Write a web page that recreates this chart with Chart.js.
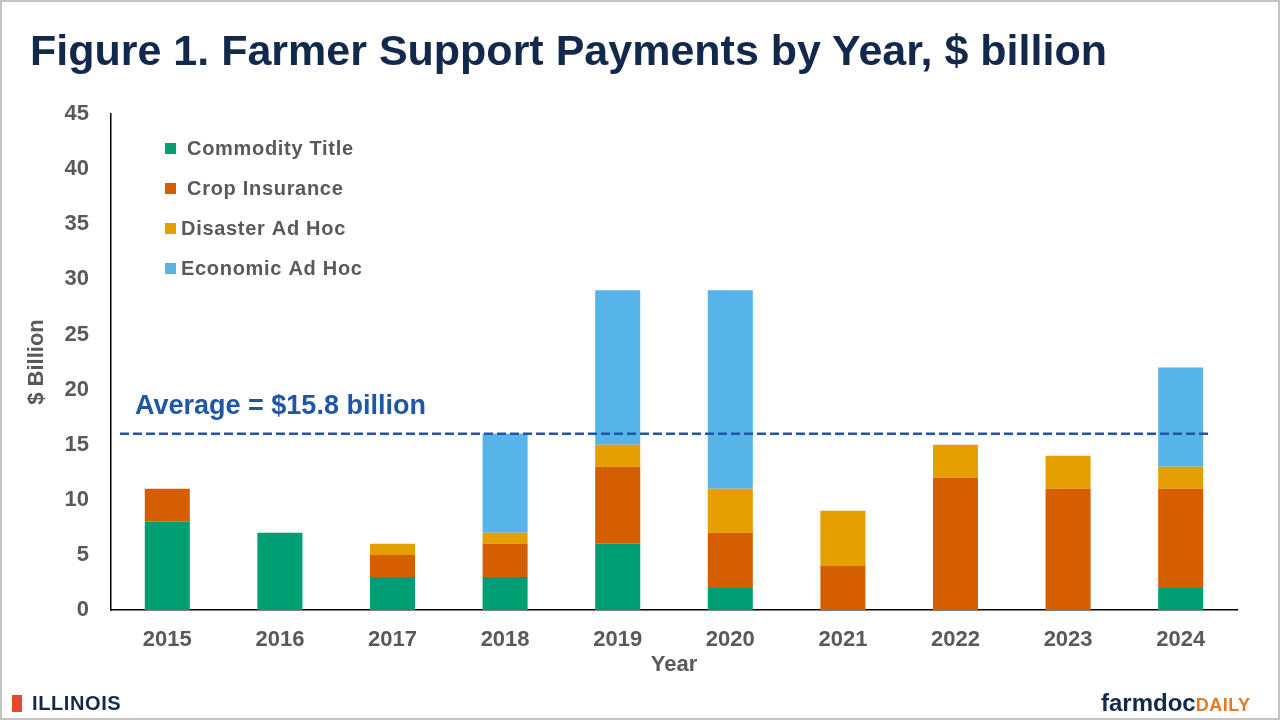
<!DOCTYPE html>
<html>
<head>
<meta charset="utf-8">
<script src="https://cdn.jsdelivr.net/npm/chart.js"></script>
<style>
  html, body { margin: 0; padding: 0; background: #fff; }
  body { width: 1280px; height: 720px; position: relative; overflow: hidden; font-family: "Liberation Sans", Arial, sans-serif; }
  #frame { position: absolute; left: 0; top: 0; border: 2px solid #c4c4c4; box-sizing: border-box; width: 1280px; height: 720px; pointer-events: none; }
  #title { position: absolute; left: 30px; top: 26px; font-size: 43px; font-weight: bold; color: #13294b; white-space: nowrap; }
  #chartBox { position: absolute; left: 0; top: 0; width: 1280px; height: 720px; }
  #illinois { position: absolute; left: 12px; top: 692px; font-size: 20px; font-weight: 900; color: #13294b; letter-spacing: 0.6px; }
  #illinois .i { display: inline-block; width: 10px; height: 17px; background: #e84a27; margin-right: 10px; vertical-align: -2px; }
  #farmdoc { position: absolute; left: 1101px; top: 689px; font-size: 24px; font-weight: bold; color: #13294b; }
  #farmdoc span { color: #e87722; font-size: 18px; letter-spacing: 0.5px; }
</style>
</head>
<body>
<div id="chartBox"><canvas id="chart" width="1280" height="720"></canvas></div>
<div id="title">Figure 1. Farmer Support Payments by Year, $ billion</div>
<div id="illinois"><span class="i"></span>ILLINOIS</div>
<div id="farmdoc">farmdoc<span>DAILY</span></div>
<div id="frame"></div>
<script>
const years = ['2015', '2016', '2017', '2018', '2019', '2020', '2021', '2022', '2023', '2024'];
const commodityTitle = [8, 7, 3, 3, 6, 2, 0, 0, 0, 2];
const cropInsurance = [3, 0, 2, 3, 7, 5, 4, 12, 11, 9];
const disasterAdHoc = [0, 0, 1, 1, 2, 4, 5, 3, 3, 2];
const economicAdHoc = [0, 0, 0, 9, 14, 18, 0, 0, 0, 9];
const averageValue = 16;
const averageLabel = 'Average = $15.8 billion';

const tickColor = '#595959';

// draws legend inside the plot area and the dashed average line
const overlayPlugin = {
  id: 'overlay',
  afterDatasetsDraw(chart) {
    const ctx = chart.ctx;
    const y = chart.scales.y.getPixelForValue(averageValue);
    ctx.save();
    ctx.strokeStyle = '#1f56a5';
    ctx.lineWidth = 2.5;
    ctx.setLineDash([9, 4]);
    ctx.beginPath();
    ctx.moveTo(120, y);
    ctx.lineTo(1210, y);
    ctx.stroke();
    ctx.setLineDash([]);
    ctx.fillStyle = '#1f56a5';
    ctx.font = 'bold 27px "Liberation Sans", Arial, sans-serif';
    ctx.textBaseline = 'middle';
    ctx.fillText(averageLabel, 135, y - 27);

    // legend
    const textX = [187, 187, 181, 181];
    chart.data.datasets.forEach((ds, i) => {
      const ly = 148 + i * 40;
      ctx.fillStyle = ds.backgroundColor;
      ctx.fillRect(165, ly - 5, 11, 11);
      ctx.fillStyle = tickColor;
      ctx.font = 'bold 20px "Liberation Sans", Arial, sans-serif';
      ctx.letterSpacing = '0.7px';
      ctx.fillText(ds.label, textX[i], ly + 1);
    });
    ctx.restore();
  }
};

new Chart(document.getElementById('chart'), {
  type: 'bar',
  data: {
    labels: years,
    datasets: [
      { label: 'Commodity Title', data: commodityTitle, backgroundColor: '#009e73' },
      { label: 'Crop Insurance', data: cropInsurance, backgroundColor: '#d55e00' },
      { label: 'Disaster Ad Hoc', data: disasterAdHoc, backgroundColor: '#e69f00' },
      { label: 'Economic Ad Hoc', data: economicAdHoc, backgroundColor: '#56b4e9' }
    ]
  },
  options: {
    responsive: false,
    animation: false,
    maintainAspectRatio: false,
    layout: { padding: { top: 114, right: 43, bottom: 40, left: 0 } },
    datasets: { bar: { categoryPercentage: 1, barPercentage: 0.4 } },
    plugins: {
      legend: { display: false },
      tooltip: { enabled: false }
    },
    scales: {
      x: {
        stacked: true,
        grid: { display: false },
        border: { color: '#000', width: 1.5 },
        ticks: { color: tickColor, font: { size: 22, weight: 'bold' }, padding: 9 },
        title: { display: true, text: 'Year', color: tickColor, font: { size: 22, weight: 'bold' }, padding: { top: 0, bottom: 2 } },
        afterFit(scale) { scale.height = 70; }
      },
      y: {
        stacked: true,
        min: 0,
        max: 45,
        grid: { display: false },
        border: { color: '#000', width: 1.5 },
        ticks: { stepSize: 5, color: tickColor, font: { size: 22, weight: 'bold' }, padding: 14 },
        title: { display: true, text: '$ Billion', color: tickColor, font: { size: 22, weight: 'bold' }, padding: { top: 24, bottom: 4 } },
        afterFit(scale) { scale.width = 111; }
      }
    }
  },
  plugins: [overlayPlugin]
});
</script>
</body>
</html>
